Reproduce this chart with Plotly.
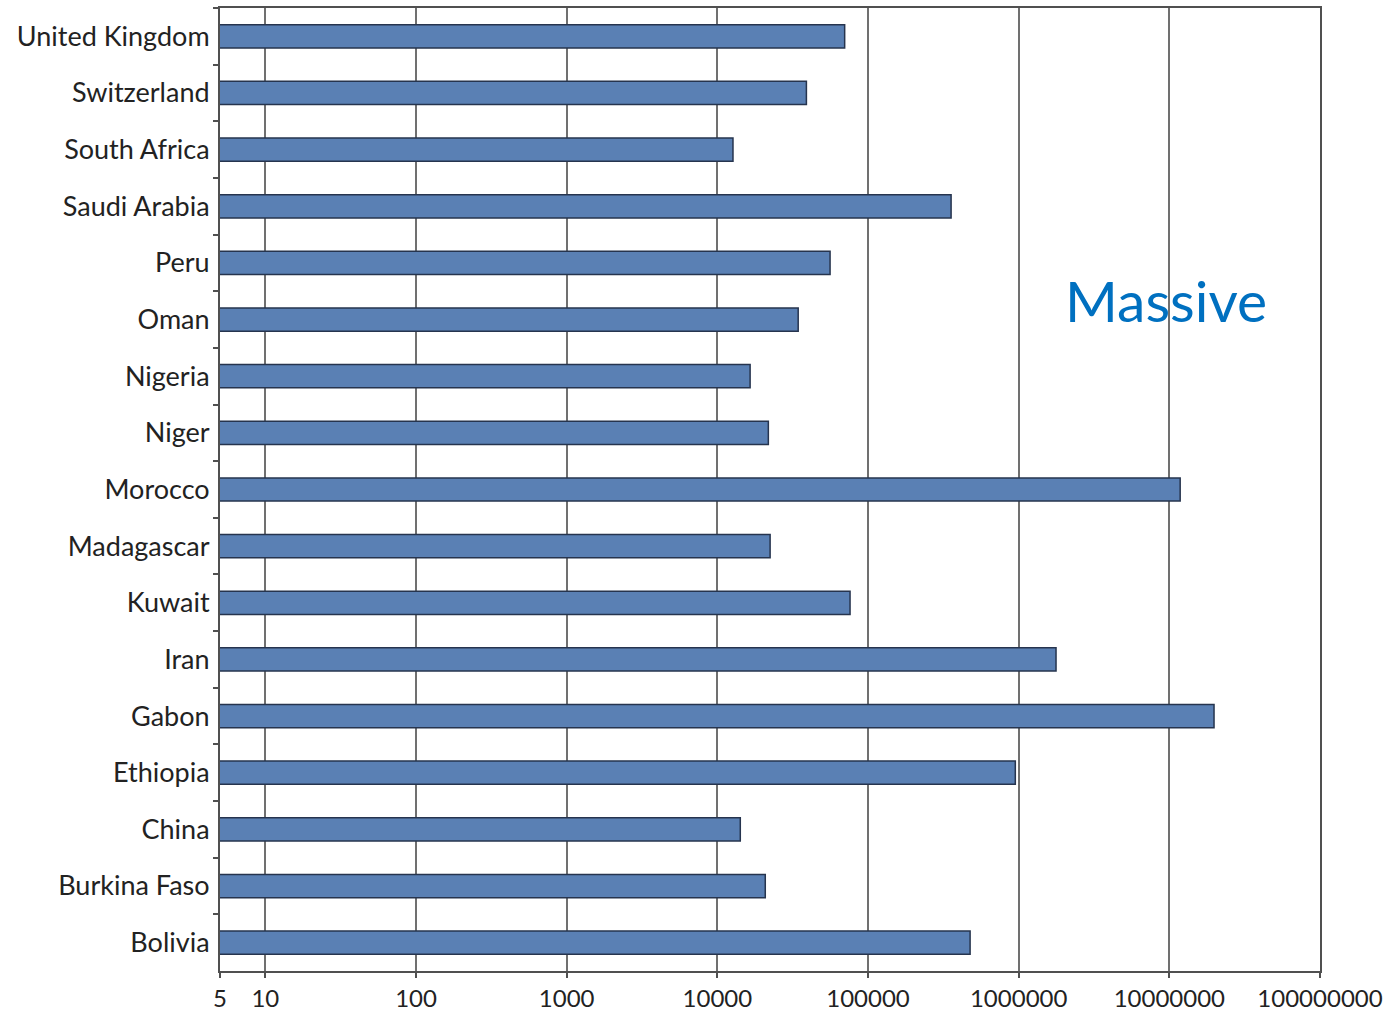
import plotly.graph_objects as go

# Countries, top to bottom
countries = [
    "United Kingdom", "Switzerland", "South Africa", "Saudi Arabia", "Peru",
    "Oman", "Nigeria", "Niger", "Morocco", "Madagascar", "Kuwait", "Iran",
    "Gabon", "Ethiopia", "China", "Burkina Faso", "Bolivia",
]
values = [
    70000, 39000, 12700, 356000, 56000,
    34400, 16500, 21800, 11800000, 22400, 76000, 1770000,
    19800000, 950000, 14200, 20800, 476000,
]

tick_vals = [5, 10, 100, 1000, 10000, 100000, 1000000, 10000000, 100000000]
tick_text = ["5", "10", "100", "1000", "10000", "100000", "1000000", "10000000", "100000000"]

font_family = "Lato, 'Open Sans', sans-serif"

fig = go.Figure(
    go.Bar(
        x=values,
        y=countries,
        orientation="h",
        marker=dict(color="#5a80b4", line=dict(color="#26344e", width=1.5)),
    )
)

fig.update_layout(
    width=1395,
    height=1019,
    margin=dict(l=220, r=75, t=6, b=48),
    paper_bgcolor="white",
    plot_bgcolor="white",
    bargap=0.59,
    showlegend=False,
    font=dict(family=font_family, size=25, color="#222222"),
)

fig.update_xaxes(
    type="log",
    range=[0.69897, 8],
    tickvals=tick_vals,
    ticktext=tick_text,
    showgrid=True,
    gridcolor="#707070",
    gridwidth=2,
    showline=True,
    linecolor="#505050",
    linewidth=2,
    mirror=True,
    ticks="outside",
    ticklen=5,
    tickcolor="#505050",
    tickwidth=2,
    tickfont=dict(size=24),
    zeroline=False,
)

fig.update_yaxes(
    autorange="reversed",
    tickson="boundaries",
    showgrid=False,
    showline=True,
    linecolor="#505050",
    linewidth=2,
    mirror=True,
    ticks="outside",
    ticklen=5,
    tickcolor="#505050",
    tickwidth=2,
    tickfont=dict(size=27),
    ticklabelstandoff=3,
)

fig.add_annotation(
    text="Massive",
    xref="paper",
    yref="paper",
    x=0.86,
    y=0.697,
    xanchor="center",
    yanchor="middle",
    showarrow=False,
    font=dict(family=font_family, size=57, color="#0070c0"),
)

fig.write_html("out.html")
